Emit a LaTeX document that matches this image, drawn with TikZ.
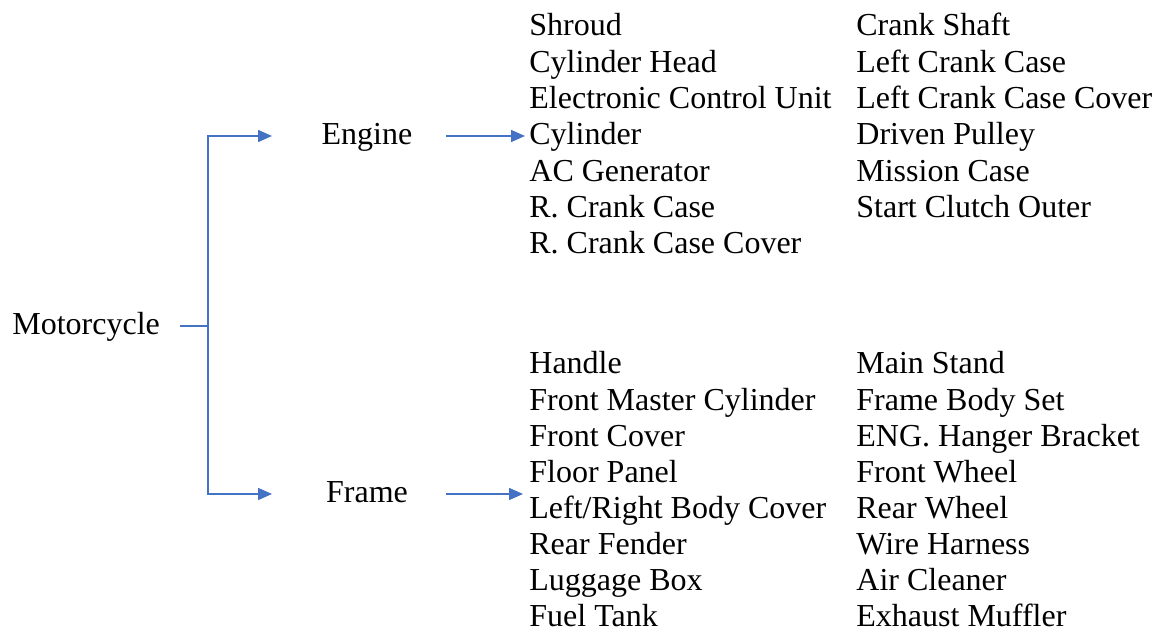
\documentclass[tikz,border=0pt]{standalone}
\usepackage{fontspec}
\setmainfont{LiberationSerif}[Extension=.ttf,UprightFont=*-Regular,BoldFont=*-Bold,ItalicFont=*-Italic,BoldItalicFont=*-BoldItalic]
\usetikzlibrary{arrows.meta}
\definecolor{arrblue}{HTML}{4472C4}
\begin{document}
\begin{tikzpicture}[x=0.5pt,y=-0.5pt,
  lbl/.style={inner sep=0pt,font=\fontsize{16pt}{18pt}\selectfont,text height=10.9pt,text depth=1.9pt},
  item/.style={lbl,anchor=base west,text depth=0pt},
  conn/.style={draw=arrblue,line width=0.75pt},
  arr/.style={conn,-{Triangle[length=7pt,width=6pt]}}]
\useasboundingbox (0,0) rectangle (1164,630);
% main nodes
\node[lbl,anchor=base west] (moto) at (12,335) {Motorcycle};
\node[lbl,anchor=base] (engine) at (367,145) {Engine};
\node[lbl,anchor=base] (frame) at (367,503) {Frame};
% engine list
\foreach \t [count=\i] in {Shroud,Cylinder Head,Electronic Control Unit,Cylinder,AC Generator,R. Crank Case,R. Crank Case Cover}
  \node[item] (e\i) at (529,{36+(\i-1)*36.3}) {\t};
\foreach \t [count=\i] in {Crank Shaft,Left Crank Case,Left Crank Case Cover,Driven Pulley,Mission Case,Start Clutch Outer}
  \node[item] (g\i) at (856,{36+(\i-1)*36.3}) {\t};
% frame list
\foreach \t [count=\i] in {Handle,Front Master Cylinder,Front Cover,Floor Panel,Left/Right Body Cover,Rear Fender,Luggage Box,Fuel Tank}
  \node[item] (f\i) at (529,{374+(\i-1)*36.1}) {\t};
\foreach \t [count=\i] in {Main Stand,Frame Body Set,ENG. Hanger Bracket,Front Wheel,Rear Wheel,Wire Harness,Air Cleaner,Exhaust Muffler}
  \node[item] (h\i) at (856,{374+(\i-1)*36.1}) {\t};
% connectors
\coordinate (j) at (208,326);
\coordinate (tipx) at (272,0);
\draw[conn] ([xshift=10pt]moto.east) -- (j);
\draw[arr] (j) |- (engine.west -| tipx);
\draw[arr] (j) |- (frame.west -| tipx);
\draw[arr,shorten >=2pt] (engine.east -| 446,0) -- (engine.east -| e4.west);
\draw[arr,shorten >=3pt] (frame.east -| 446,0) -- (frame.east -| f5.west);
\end{tikzpicture}
\end{document}
